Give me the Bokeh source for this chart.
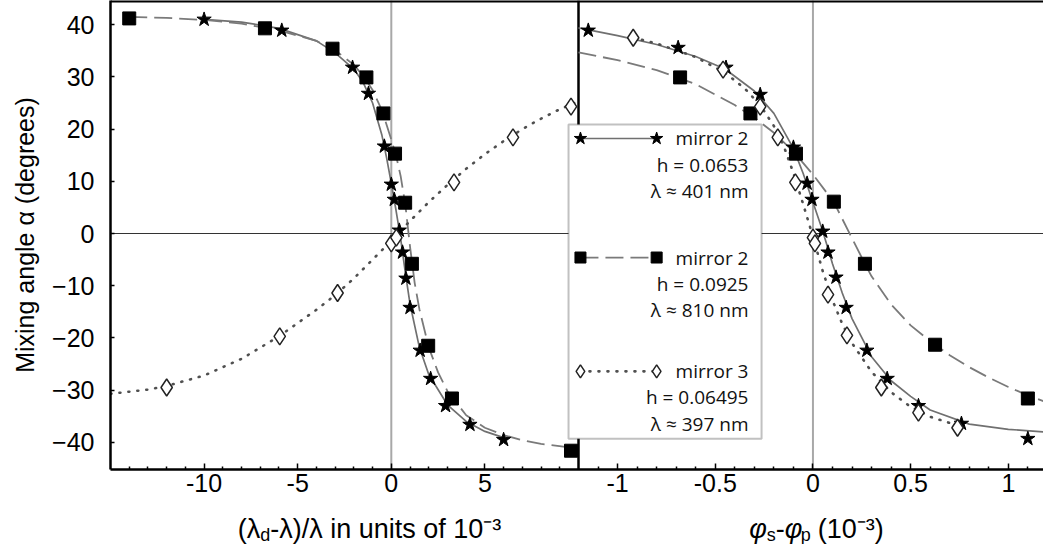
from bokeh.plotting import figure
from bokeh.layouts import column
from bokeh.models import (Range1d, LinearAxis, FixedTicker, CustomJSTickFormatter,
                          Span, BoxAnnotation, Label)
from bokeh.embed import file_html
from bokeh.resources import INLINE

# ---------------- data ----------------
# left panel: (lambda_d - lambda)/lambda in units of 1e-3
left_star_x = [-10.0, -5.85, -2.07, -1.22, -0.37, 0.0, 0.16, 0.43, 0.6, 0.78, 1.0, 1.54, 2.1, 2.9, 4.2, 6.0]
left_star_y = [41.0, 38.9, 31.8, 26.8, 16.7, 9.4, 6.5, 0.6, -3.6, -8.6, -14.2, -22.4, -27.8, -33.0, -36.6, -39.5]
left_square_x = [-14.0, -6.75, -3.14, -1.33, -0.42, 0.2, 0.74, 1.1, 1.97, 3.24, 9.6]
left_square_y = [41.2, 39.3, 35.4, 29.9, 23.0, 15.3, 5.9, -5.8, -21.5, -31.6, -41.6]
left_diamond_x = [-12.0, -5.96, -2.87, 0.0, 0.27, 3.35, 6.5, 9.6]
left_diamond_y = [-29.5, -19.7, -11.4, -1.9, -0.8, 9.8, 18.4, 24.3]

left_fit401_x = [-10, -8, -6, -4, -3, -2, -1.5, -1, -0.5, -0.25, 0, 0.25, 0.5, 0.75, 1.0, 1.5, 2, 3, 4, 5, 6]
left_fit401_y = [41.0, 40.5, 39.3, 36.9, 34.6, 31.5, 28.9, 25.0, 18.8, 14.5, 9.6, 4.5, -1.0, -7.5, -13.5, -21.8, -27.0, -32.8, -36.0, -37.9, -39.1]
left_fit810_x = [-14, -12, -10, -8, -6, -4, -3, -2, -1.5, -1, -0.5, 0, 0.25, 0.5, 0.75, 1.0, 1.25, 1.5, 2, 2.5, 3, 4, 5, 6, 7, 8, 9.4]
left_fit810_y = [41.5, 41.3, 40.9, 40.2, 38.9, 36.9, 35.1, 32.3, 30.2, 27.5, 23.6, 18.0, 15.0, 11.0, 5.5, -2.5, -9.5, -14.5, -21.8, -26.6, -30.2, -34.8, -37.2, -38.6, -39.6, -40.3, -40.9]
left_fit397_x = [-15, -13, -12, -10, -8, -6, -4, -3, -2, -1, 0, 1, 2, 3, 4, 5, 6, 7, 8, 9, 10]
left_fit397_y = [-30.7, -29.9, -29.2, -27.2, -24.0, -19.7, -14.6, -11.8, -8.6, -5.0, -1.4, 2.4, 6.0, 9.3, 12.4, 15.2, 17.7, 20.0, 22.0, 23.8, 25.3]

# right panel: phi_s - phi_p (1e-3)
right_star_x = [-1.15, -0.69, -0.445, -0.27, -0.10, -0.03, -0.005, 0.05, 0.077, 0.118, 0.17, 0.276, 0.38, 0.54, 0.76, 1.10]
right_star_y = [38.9, 35.6, 31.8, 26.6, 16.5, 9.6, 6.5, 0.4, -3.6, -8.4, -14.2, -22.4, -27.8, -33.0, -36.4, -39.3]
right_square_x = [-0.68, -0.32, -0.087, 0.107, 0.266, 0.625, 1.10]
right_square_y = [29.9, 23.0, 15.3, 6.1, -5.8, -21.3, -31.6]
right_diamond_x = [-0.92, -0.46, -0.27, -0.18, -0.09, 0.0, 0.01, 0.077, 0.174, 0.35, 0.54, 0.74]
right_diamond_y = [37.5, 31.4, 24.3, 18.4, 9.8, -0.8, -1.9, -11.7, -19.5, -29.5, -34.3, -37.2]

right_fit401_x = [-1.2, -1.0, -0.8, -0.6, -0.45, -0.3, -0.2, -0.1, -0.05, 0, 0.05, 0.1, 0.15, 0.2, 0.3, 0.4, 0.5, 0.6, 0.8, 1.0, 1.18]
right_fit401_y = [39.4, 37.9, 36.2, 33.9, 31.5, 27.3, 23.0, 16.3, 11.5, 6.0, 0.5, -5.8, -11.4, -16.3, -23.6, -28.2, -31.2, -33.8, -36.5, -37.5, -38.0]
right_fit810_x = [-1.2, -1.0, -0.8, -0.6, -0.4, -0.3, -0.2, -0.1, 0, 0.107, 0.2, 0.266, 0.3, 0.4, 0.5, 0.6, 0.7, 0.8, 0.9, 1.0, 1.1, 1.18]
right_fit810_y = [34.7, 33.2, 31.3, 28.6, 24.6, 22.2, 19.3, 15.7, 11.3, 6.0, -0.9, -5.8, -8.2, -13.6, -17.6, -20.6, -23.3, -25.6, -27.6, -29.4, -31.0, -32.1]
right_fit397_x = [-0.92, -0.8, -0.6, -0.45, -0.35, -0.27, -0.2, -0.15, -0.1, -0.05, 0, 0.05, 0.1, 0.15, 0.2, 0.3, 0.4, 0.5, 0.6, 0.76]
right_fit397_y = [37.5, 36.4, 33.8, 30.8, 27.8, 24.6, 20.6, 16.8, 11.6, 5.6, -0.6, -7.2, -12.8, -17.3, -21.0, -26.5, -30.4, -33.2, -35.1, -37.0]

y_ticks = [-40, -30, -20, -10, 0, 10, 20, 30, 40]
x_ticks_left = [-10, -5, 0, 5]
x_ticks_right = [-1, -0.5, 0, 0.5, 1]

legend_names = ["mirror 2", "mirror 2", "mirror 3"]
legend_h = ["h = 0.0653", "h = 0.0925", "h = 0.06495"]
legend_lam = ["\u03bb \u2248 401 nm", "\u03bb \u2248 810 nm", "\u03bb \u2248 397 nm"]

# ---------------- layout ----------------
FONT = "Liberation Sans"
FRAME_W, FRAME_H = 933, 469
BORDER_L = 110
BORDER_B = 33
LEFT_W = 468
L0, L1 = -15.0, 10.0
R0, R1 = -1.2, 1.18
Y0, Y1 = -45.2, 44.63

left_end = L0 + (L1 - L0) * FRAME_W / LEFT_W
k = ((L1 - L0) / LEFT_W) / ((R1 - R0) / (FRAME_W - LEFT_W))
right_start = R0 - (L1 - L0) / k

xr_left = Range1d(L0, left_end)
xr_right = Range1d(right_start, R1)

p = figure(frame_width=FRAME_W, frame_height=FRAME_H,
           x_range=xr_left, y_range=Range1d(Y0, Y1),
           x_axis_type=None, y_axis_type=None,
           output_backend="svg", toolbar_location=None,
           min_border_left=BORDER_L, min_border_right=0, min_border_top=0, min_border_bottom=BORDER_B,
           outline_line_color=None, background_fill_color="white", border_fill_color="white")
p.extra_x_ranges = {"right": xr_right}


def to_left(v):
    return L1 + (v - R0) * k


major = [float(v) for v in x_ticks_left] + [to_left(v) for v in x_ticks_right]
minor = [float(v) for v in range(-14, 10) if v % 5 != 0]
for i in range(23):
    v = round(-1.1 + 0.1 * i, 1)
    if round(v * 10) % 5 != 0:
        minor.append(to_left(v))

fmt_x = CustomJSTickFormatter(args=dict(L1=L1, R0=R0, k=k), code="""
if (tick > L1 + 1e-6) {
  let v = Math.round((R0 + (tick - L1) / k) * 10) / 10;
  if (Math.abs(v) < 1e-9) { v = 0; }
  return String(v);
}
return String(Math.round(tick));
""")
xaxis = LinearAxis(ticker=FixedTicker(ticks=major, minor_ticks=minor), formatter=fmt_x,
                   axis_line_width=2.5, axis_line_color="black",
                   major_tick_in=6, major_tick_out=0, minor_tick_in=3, minor_tick_out=0,
                   major_tick_line_width=1.5, minor_tick_line_width=1.5,
                   major_tick_line_color="black", minor_tick_line_color="black",
                   major_label_text_font=FONT, major_label_text_font_size="25px",
                   major_label_text_color="black", major_label_standoff=4)
p.add_layout(xaxis, "below")

fmt_y = CustomJSTickFormatter(code="return tick < 0 ? '\u2212' + String(-tick) : String(tick);")
yaxis = LinearAxis(ticker=FixedTicker(ticks=y_ticks, minor_ticks=[]), formatter=fmt_y,
                   axis_label="Mixing angle \u03b1 (degrees)",
                   axis_label_text_font=FONT, axis_label_text_font_size="25px",
                   axis_label_text_font_style="normal", axis_label_text_color="black",
                   axis_label_standoff=10,
                   axis_line_width=2.5, axis_line_color="black",
                   major_tick_in=4, major_tick_out=0, major_tick_line_width=1.5,
                   major_tick_line_color="black",
                   major_label_text_font=FONT, major_label_text_font_size="25px",
                   major_label_text_color="black", major_label_standoff=16)
p.add_layout(yaxis, "left")

# reference lines and frame edges
p.add_layout(Span(location=0, dimension="height", line_color="#a8a8a8", line_width=2, level="underlay"))
p.add_layout(Span(location=0, dimension="height", x_range_name="right", line_color="#a8a8a8",
                  line_width=2, level="underlay"))
p.add_layout(Span(location=0, dimension="width", line_color="#333333", line_width=1.2, level="underlay"))
p.add_layout(Span(location=L1, dimension="height", line_color="black", line_width=2.5, level="underlay"))
p.add_layout(Span(location=Y1, dimension="width", line_color="black", line_width=4, level="underlay"))

SOLID = dict(line_color="#707070", line_width=1.7)
DASHED = dict(line_color="#7a7a7a", line_width=1.8, line_dash="18 7")
DOTTED = dict(line_color="#505050", line_width=2.6, line_dash="1 8", line_cap="round")
STAR = dict(marker="star", size=15, fill_color="black", line_color="black")
SQUARE = dict(marker="square", size=13, fill_color="black", line_color="black")
DIAMOND = dict(marker="diamond", size=17, fill_color="white", line_color="#222222", line_width=1.5)

for rn, fx, fy, st in [("default", left_fit401_x, left_fit401_y, SOLID),
                       ("default", left_fit810_x, left_fit810_y, DASHED),
                       ("default", left_fit397_x, left_fit397_y, DOTTED),
                       ("right", right_fit401_x, right_fit401_y, SOLID),
                       ("right", right_fit810_x, right_fit810_y, DASHED),
                       ("right", right_fit397_x, right_fit397_y, DOTTED)]:
    p.line(fx, fy, x_range_name=rn, **st)

for rn, mx, my, st in [("default", left_star_x, left_star_y, STAR),
                       ("default", left_square_x, left_square_y, SQUARE),
                       ("default", left_diamond_x, left_diamond_y, DIAMOND),
                       ("right", right_star_x, right_star_y, STAR),
                       ("right", right_square_x, right_square_y, SQUARE),
                       ("right", right_diamond_x, right_diamond_y, DIAMOND)]:
    p.scatter(mx, my, x_range_name=rn, **st)

# legend box (right-panel units)
p.add_layout(BoxAnnotation(left=-1.251, right=-0.263, top=20.9, bottom=-39.3, x_range_name="right",
                           fill_color="white", fill_alpha=1.0, line_color="#333333", line_width=2))
LEG_X0, LEG_X1, LEG_TX = -1.19, -0.80, -0.33
LEG_Y = [18.2, -4.6, -26.4]
LEG_DY = 5.0
LFONT = "Open Sans"
styles = [(SOLID, dict(marker="star", size=13, fill_color="black", line_color="black")),
          (DASHED, dict(marker="square", size=11, fill_color="black", line_color="black")),
          (DOTTED, dict(marker="diamond", size=13, fill_color="white", line_color="#222222", line_width=1.5))]
for i, (ls, ms) in enumerate(styles):
    yy = LEG_Y[i]
    p.line([LEG_X0, LEG_X1], [yy, yy], x_range_name="right", level="overlay", **ls)
    p.scatter([LEG_X0, LEG_X1], [yy, yy], x_range_name="right", level="overlay", **ms)
    for j, txt in enumerate([legend_names[i], legend_h[i], legend_lam[i]]):
        p.add_layout(Label(x=LEG_TX, y=yy - j * LEG_DY, x_range_name="right", text=txt,
                           text_align="right", text_baseline="middle", text_font=LFONT,
                           text_font_size="19px", text_color="#111111", level="overlay"))

# ---------------- x-axis titles (separate strip sharing the x scales) ----------------
STRIP_H = 544 - FRAME_H - BORDER_B
t = figure(frame_width=FRAME_W, frame_height=STRIP_H, x_range=xr_left, y_range=Range1d(0, STRIP_H),
           x_axis_type=None, y_axis_type=None, output_backend="svg", toolbar_location=None,
           min_border_left=BORDER_L, min_border_right=0, min_border_top=0, min_border_bottom=0,
           outline_line_color=None, background_fill_color="white", border_fill_color="white")
t.extra_x_ranges = {"right": xr_right}

BASE_Y = 16
AFS, SFS = "27px", "18px"


def piece(x, rn, text, off, align, size=AFS, dy=0, style="normal"):
    t.add_layout(Label(x=x, y=BASE_Y, x_range_name=rn, text=text, x_offset=off, y_offset=dy,
                       text_align=align, text_baseline="alphabetic", text_font=FONT,
                       text_font_size=size, text_font_style=style, text_color="black"))


A = -7.0
piece(A, "default", "(\u03bb", 0, "right")
piece(A, "default", "d", 0, "left", SFS, -6)
piece(A, "default", "-\u03bb)/\u03bb in units of 10\u207b\u00b3", 10, "left")

B = -0.236
piece(B, "right", "\u03c6", 0, "right", style="italic")
piece(B, "right", "s", 0, "left", SFS, -6)
piece(B, "right", "-", 9, "left")
piece(B, "right", "\u03c6", 18, "left", style="italic")
piece(B, "right", "p", 34, "left", SFS, -6)
piece(B, "right", "(10\u207b\u00b3)", 51, "left")

layout = column(p, t, spacing=0)
open("out.html", "w", encoding="utf-8").write(file_html(layout, INLINE))
